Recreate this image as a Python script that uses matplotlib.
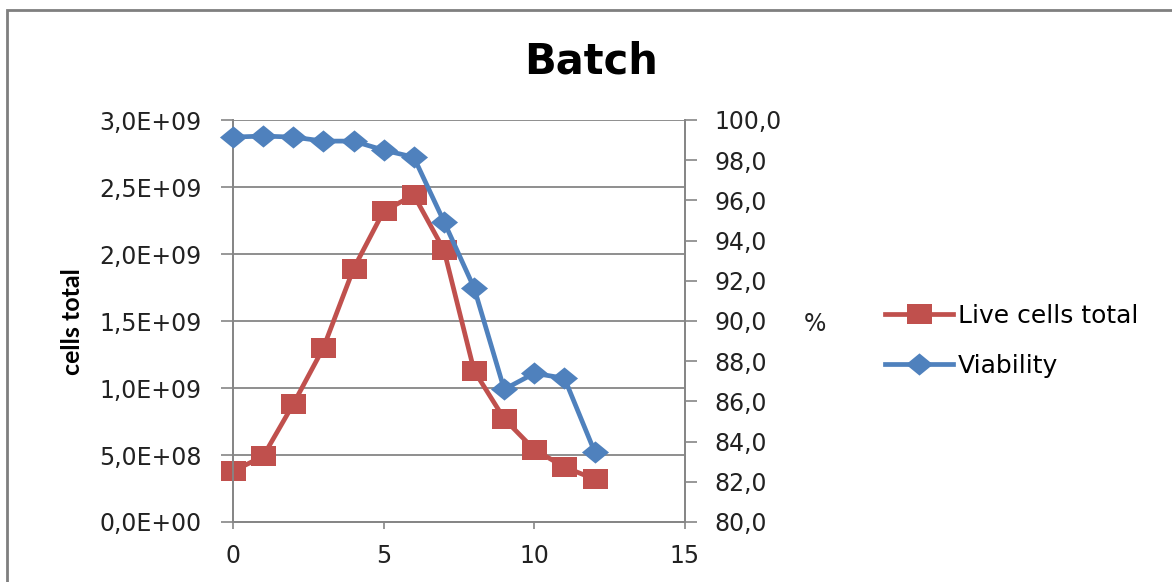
import matplotlib.pyplot as plt
import matplotlib.patches as patches
from matplotlib.ticker import FuncFormatter, MultipleLocator

# Batch culture: total live cells and viability per day
days = [0, 1, 2, 3, 4, 5, 6, 7, 8, 9, 10, 11, 12]
live_cells = [0.38e9, 0.49e9, 0.88e9, 1.30e9, 1.89e9, 2.32e9, 2.44e9,
              2.03e9, 1.13e9, 0.77e9, 0.54e9, 0.41e9, 0.32e9]
viability = [99.15, 99.2, 99.15, 98.95, 98.95, 98.5, 98.15,
             94.95, 91.65, 86.6, 87.4, 87.15, 83.5]

RED = '#C0504D'
BLUE = '#4F81BD'
GRID = '#868686'

# squat square / wide diamond markers (Excel look)
square = [(-1, -0.8), (1, -0.8), (1, 0.8), (-1, 0.8), (-1, -0.8)]
diamond = [(-1, 0), (0, 0.82), (1, 0), (0, -0.82), (-1, 0)]

W, H = 1172, 582
fig = plt.figure(figsize=(W / 100, H / 100), dpi=100)
fig.patch.set_facecolor('white')

# chart frame
fig.patches.append(patches.Rectangle((6.5 / W, -0.1), 1.2, 1 - 9.5 / H + 0.1,
                                     transform=fig.transFigure, fill=False,
                                     edgecolor='#7f7f7f', linewidth=2.0))

ax = fig.add_axes([233 / W, 1 - 522 / H, 452 / W, 402 / H])
ax2 = ax.twinx()

l1, = ax.plot(days, live_cells, color=RED, lw=3.4, marker=square,
              markersize=18, markeredgewidth=0, label='Live cells total',
              zorder=3, clip_on=False)
l2, = ax2.plot(days, viability, color=BLUE, lw=3.4, marker=diamond,
               markersize=19.5, markeredgewidth=0, label='Viability',
               zorder=4, clip_on=False)

ax.set_xlim(0, 15)
ax.set_ylim(0, 3.0e9)
ax2.set_ylim(80, 100)
ax.xaxis.set_major_locator(MultipleLocator(5))
ax.yaxis.set_major_locator(MultipleLocator(0.5e9))
ax2.yaxis.set_major_locator(MultipleLocator(2))


def sci_comma(v, pos):
    s = '%.1E' % v
    return s.replace('.', ',')


ax.yaxis.set_major_formatter(FuncFormatter(sci_comma))
ax2.yaxis.set_major_formatter(FuncFormatter(lambda v, p: ('%.1f' % v).replace('.', ',')))

ax.grid(axis='y', color=GRID, lw=1.3)
ax.set_axisbelow(True)
for a in (ax, ax2):
    for sp in a.spines.values():
        sp.set_color(GRID)
        sp.set_linewidth(1.3)
ax2.spines['top'].set_visible(False)
ax.spines['top'].set_visible(False)

ax.tick_params(axis='y', length=8.5, width=1.2, color=GRID, pad=14,
               labelsize=17, labelcolor='#222222')
ax.tick_params(axis='x', length=5, width=1.2, color=GRID, pad=11,
               labelsize=17, labelcolor='#222222')
ax2.tick_params(axis='y', length=8.5, width=1.2, color=GRID, pad=13,
                labelsize=17, labelcolor='#222222')

fig.text(591 / W, 1 - 62 / H, 'Batch', fontsize=30, fontweight='bold',
         ha='center', va='center')
fig.text(72 / W, 1 - 322 / H, 'cells total', rotation=90, fontsize=18,
         fontweight='bold', family=['Lato', 'DejaVu Sans'],
         ha='center', va='center')
fig.text(815 / W, 1 - 324 / H, '%', fontsize=17, ha='center', va='center',
         color='#222222')

fig.legend([l1, l2], ['Live cells total', 'Viability'], loc='center left',
           bbox_to_anchor=(885 / W, 1 - 341 / H), frameon=False, fontsize=18,
           handlelength=2.7, handletextpad=0.22, labelspacing=1.05,
           borderpad=0, borderaxespad=0)

fig.savefig('out.png', dpi=100)
